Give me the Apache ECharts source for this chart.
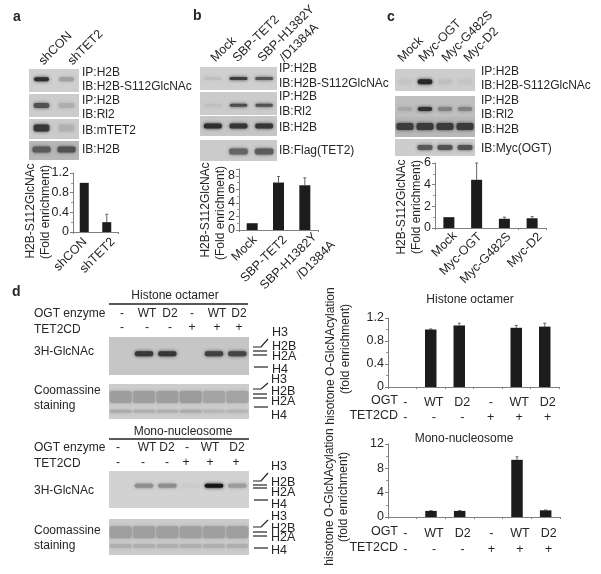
<!DOCTYPE html>
<html><head><meta charset="utf-8">
<style>html,body{margin:0;padding:0;background:#fff}#c{width:601px;height:574px}</style>
<script src="https://cdn.jsdelivr.net/npm/echarts@6/dist/echarts.min.js"></script>
</head><body><div id="c"></div>
<script>
// ---- bar chart data ----
const catsA = ['shCON','shTET2'];
const valsA = [1, 0.2];
const topsA = [null, 0.36];
const catsB = ['Mock','SBP-TET2','SBP-H1382Y'];
const catB2 = '/D1384A';
const valsB = [1, 7, 6.6];
const topsB = [null, 7.9, 7.7];
const catsC = ['Mock','Myc-OGT','Myc-G482S','Myc-D2'];
const valsC = [1, 4.45, 0.85, 0.9];
const topsC = [null, 6.0, 1.0, 1.05];
const ogtRow = ['-','WT','D2','-','WT','D2'];
const tetRow = ['-','-','-','+','+','+'];
const valsD1 = [0, 1.0, 1.07, 0, 1.03, 1.05];
const topsD1 = [null, 1.01, 1.11, null, 1.07, 1.11];
const valsD2 = [0, 1.0, 1.0, 0, 9.4, 1.1];
const topsD2 = [null, 1.06, 1.06, null, 9.9, 1.16];
// ---- blot band intensities, lane by lane ----
const a1 = [.85,.25], a2 = [.66,.16], a3 = [.8,.14], a4 = [.56,.62];
const b1 = [.08,.76,.64], b2 = [.06,.68,.66], b3 = [.85,.8,.8], b4 = [0,.55,.6];
const c1 = [.05,.88,.07,.05], c2 = [.14,.82,.36,.36], c3 = [.74,.76,.76,.76], c4 = [0,.62,.66,.66];
const d1 = [0,.8,.8,0,.75,.72];
const d2u = [.25,.25,.25,.27,.22,.22], d2l = [.18,.16,.16,.18,.13,.13];
const d3 = [0,.36,.36,.03,.98,.28];
const d4u = [.24,.24,.24,.24,.24,.24], d4l = [.15,.15,.15,.15,.15,.15];

// ---- layout ----
const blots = [
 {r:[29,69,50,23],bg:'#cfcfcf',rows:[{v:a1,y:.45,h:4,w:.6}]},
 {r:[29,94,50,23],bg:'#cccccc',rows:[{v:a2,y:.5,h:5,w:.62}]},
 {r:[29,119,50,20],bg:'#cbcbcb',rows:[{v:a3,y:.45,h:7,w:.62}]},
 {r:[29,141,50,19],bg:'#b8b8b8',rows:[{v:a4,y:.45,h:6,w:.72}]},
 {r:[200,67,77,23],bg:'#cfcfcf',rows:[{v:b1,y:.5,h:3,w:.7}]},
 {r:[200,92,77,23],bg:'#cbcbcb',rows:[{v:b2,y:.58,h:3,w:.68}]},
 {r:[200,116,77,20],bg:'#c6c6c6',rows:[{v:b3,y:.5,h:5,w:.7}]},
 {r:[200,140,77,21],bg:'#cbcbcb',rows:[{v:b4,y:.55,h:6,w:.72}]},
 {r:[395,69,80,22],bg:'#cdcdcd',rows:[{v:c1,y:.58,h:5,w:.72}]},
 {r:[395,96,80,21],bg:'#bfbfbf',rows:[{v:c2,y:.62,h:4,w:.72}]},
 {r:[395,117,80,20],bg:'#b8b8b8',rows:[{v:c3,y:.47,h:7,w:.85}]},
 {r:[395,139,80,17],bg:'#cdcdcd',rows:[{v:c4,y:.5,h:5,w:.75}]},
 {r:[109,337,140,38],bg:'#c6c6c6',rows:[{v:d1,y:.44,h:5,w:.78}]},
 {r:[109,384,140,35],bg:'#cdcdcd',rows:[{v:d2u,y:.37,h:12,w:.94},{v:d2l,y:.78,h:3,w:.94}]},
 {r:[109,471,140,37],bg:'#d2d2d2',rows:[{v:d3,y:.4,h:4,w:.8}]},
 {r:[109,519,140,36],bg:'#cbcbcb',rows:[{v:d4u,y:.37,h:12,w:.94},{v:d4l,y:.75,h:4,w:.94}]}
];
const charts = [
 {r:[73,173,45,59],cats:catsA,vals:valsA,tops:topsA,max:1.2,iv:.4,bw:9},
 {r:[239,169,79,61],cats:catsB,vals:valsB,tops:topsB,max:9,iv:2,bw:11,hideMax:true},
 {r:[435,163,111,65],cats:catsC,vals:valsC,tops:topsC,max:6,iv:2,bw:11},
 {r:[388,318,171,69],cats:ogtRow,second:tetRow,vals:valsD1,tops:topsD1,max:1.2,iv:.4,bw:11.5,margin:8,lh:15},
 {r:[388,444,172,73],cats:ogtRow,second:tetRow,vals:valsD2,tops:topsD2,max:12,iv:4,bw:11.5,margin:9,lh:16}
];
const FONT = '"Liberation Sans", Arial, sans-serif', INK = '#262626';

function mix(bg, t){
  const b = parseInt(bg.slice(1,3),16), v = Math.round(b + (18 - b)*t);
  return 'rgb('+v+','+v+','+v+')';
}
const grid=[], xAxis=[], yAxis=[], series=[];

blots.forEach(b=>{
  const g = grid.length, n = b.rows[0].v.length;
  grid.push({left:b.r[0],top:b.r[1],width:b.r[2],height:b.r[3],show:true,backgroundColor:b.bg,borderWidth:0});
  xAxis.push({gridIndex:g,type:'value',min:-.5,max:n-.5,show:false});
  yAxis.push({gridIndex:g,type:'value',min:0,max:1,inverse:true,show:false});
  b.rows.forEach(row=>{
    series.push({type:'custom',xAxisIndex:g,yAxisIndex:g,clip:true,silent:true,
      data:row.v.map((t,i)=>[i,row.y,t]),
      encode:{x:0,y:1},
      renderItem:(p,api)=>{
        const t=api.value(2); if(t<=0) return;
        const c=api.coord([api.value(0),api.value(1)]), w=api.size([1,0])[0]*row.w, col=mix(b.bg,t);
        return {type:'rect',shape:{x:c[0]-w/2,y:c[1]-row.h/2,width:w,height:row.h,r:Math.min(2,row.h/2)},
                style:{fill:col,shadowBlur:3.5,shadowColor:col}};
      }});
  });
});

charts.forEach(c=>{
  const g = grid.length;
  grid.push({left:c.r[0],top:c.r[1],width:c.r[2],height:c.r[3]});
  xAxis.push({gridIndex:g,type:'category',data:c.cats.map((s,i)=>({value:c.second? i+'':s})),
    axisLine:{lineStyle:{color:'#808080',width:1}},
    axisTick:{show:true,length:2,lineStyle:{color:'#808080'},alignWithLabel:false},
    axisLabel: c.second ? {interval:0,margin:c.margin,fontFamily:FONT,fontSize:12.5,color:INK,lineHeight:c.lh,padding:[0,0,0,6],
        formatter:(v,i)=>c.cats[i]+'\n'+c.second[i]}
      : {show:false}});
  yAxis.push({gridIndex:g,type:'value',min:0,max:c.max,interval:c.iv,splitLine:{show:false},
    axisLine:{show:true,lineStyle:{color:'#808080'}},
    axisTick:{show:true,length:3,lineStyle:{color:'#808080'}},
    minorTick:{show:true,splitNumber:2,length:2,lineStyle:{color:'#999'}},
    axisLabel:{margin:4,fontFamily:FONT,fontSize:12.5,color:INK,showMaxLabel:c.hideMax?false:undefined,
      formatter:v=>String(v)}});
  series.push({type:'bar',xAxisIndex:g,yAxisIndex:g,data:c.vals,barWidth:c.bw,itemStyle:{color:'#1c1c1c'},silent:true});
  series.push({type:'custom',xAxisIndex:g,yAxisIndex:g,silent:true,z:1,
    data:c.vals.map((v,i)=>[i,v,c.tops[i]]).filter(d=>d[2]!==null),
    encode:{x:0,y:[1,2]},
    renderItem:(p,api)=>{
      const a=api.coord([api.value(0),api.value(1)]), e=api.coord([api.value(0),api.value(2)]);
      return {type:'group',children:[
        {type:'line',shape:{x1:a[0],y1:a[1],x2:e[0],y2:e[1]},style:{stroke:'#666',lineWidth:1}},
        {type:'line',shape:{x1:e[0]-1.5,y1:e[1],x2:e[0]+1.5,y2:e[1]},style:{stroke:'#666',lineWidth:1}}]};
    }});
});

// ---- text and annotation ----
const gfx=[];
function T(x,y,s,o){ o=o||{}; gfx.push({type:'text',x:x,y:y,rotation:o.rot||0,silent:true,
  style:{text:s,fill:o.fill||INK,font:(o.bold?'bold ':'')+(o.size||12)+'px '+FONT,align:o.align||'left',verticalAlign:'middle'}}); }
function L(pts,w){ gfx.push({type:'polyline',silent:true,shape:{points:pts},style:{stroke:'#222',lineWidth:w||1.2,fill:null}}); }
const R45=Math.PI/4, R90=Math.PI/2;

T(13,17,'a',{bold:1,size:14}); T(193,16,'b',{bold:1,size:14}); T(387,17,'c',{bold:1,size:14}); T(12,292,'d',{bold:1,size:14});

const labelsA=[['IP:H2B',73],['IB:H2B-S112GlcNAc',87],['IP:H2B',101],['IB:Rl2',115],['IB:mTET2',131],['IB:H2B',150]];
const labelsB=[['IP:H2B',69],['IB:H2B-S112GlcNAc',84],['IP:H2B',97],['IB:Rl2',112],['IB:H2B',128],['IB:Flag(TET2)',151]];
const labelsC=[['IP:H2B',72],['IB:H2B-S112GlcNAc',86],['IP:H2B',101],['IB:Rl2',115],['IB:H2B',130],['IB:Myc(OGT)',149]];
labelsA.forEach(l=>T(82,l[1],l[0])); labelsB.forEach(l=>T(279,l[1],l[0])); labelsC.forEach(l=>T(481,l[1],l[0]));

[['shCON',41,63],['shTET2',70,63],['Mock',213,60],['SBP-TET2',235,60],['SBP-H1382Y',260,60],['/D1384A',282,60],
 ['Mock',400,60],['Myc-OGT',421,60],['Myc-G482S',444,60],['Myc-D2',466,60]].forEach(h=>T(h[1],h[2],h[0],{rot:R45,size:12.5}));

// x labels of the small bar charts, anchored at their upper right end
const endsA=[[85,240],[113,240]], endsB=[[255,238],[285,238],[315,235]], endsC=[[455,234],[480,235],[509,235],[540,235]];
catsA.forEach((s,i)=>T(endsA[i][0],endsA[i][1],s,{rot:R45,align:'right',size:12.5}));
catsB.forEach((s,i)=>T(endsB[i][0],endsB[i][1],s,{rot:R45,align:'right',size:12.5}));
T(333,243,catB2,{rot:R45,align:'right',size:12.5});
catsC.forEach((s,i)=>T(endsC[i][0],endsC[i][1],s,{rot:R45,align:'right',size:12.5}));

[['H2B-S112GlcNAc',31,211],['(Fold enrichment)',46,212],['H2B-S112GlcNAc',206,210],['(Fold enrichment)',221,213],
 ['H2B-S112GlcNAc',402,207],['(Fold enrichment)',417,207],['hisotone O-GlcNAcylation',331,356],['(fold enrichment)',346,349],
 ['hisotone O-GlcNAcylation',330,497],['(fold enrichment)',344,497]].forEach(h=>T(h[1],h[2],h[0],{rot:R90,align:'center'}));

T(470,300,'Histone octamer',{align:'center'}); T(464,439,'Mono-nucleosome',{align:'center'});
[[401,'OGT'],[416,'TET2CD'],[532,'OGT'],[548,'TET2CD']].forEach(r=>T(398,r[0],r[1],{align:'right',size:12.5}));

T(175,296,'Histone octamer',{align:'center'}); L([[109,304],[248,304]],1.5);
T(183,432,'Mono-nucleosome',{align:'center'}); L([[109,439],[249,439]],1.5);
[['OGT enzyme',314],['TET2CD',330],['3H-GlcNAc',352],['Coomassine',391],['staining',406],
 ['OGT enzyme',448],['TET2CD',464],['3H-GlcNAc',491],['Coomassine',531],['staining',546]].forEach(r=>T(34,r[1],r[0]));

const laneX1=[122,147,170,192,217,239], laneX2=[118,147,167,187,210,237], laneX2t=[118,143,167,186,210,236];
ogtRow.forEach((s,i)=>{ T(laneX1[i],314,s,{align:'center'}); T(laneX1[i],328,tetRow[i],{align:'center'});
  T(laneX2[i],448,s,{align:'center'}); T(laneX2t[i],463,tetRow[i],{align:'center'}); });

function markers(yH3,tip,y2b,y2a,y4,lb,lx){
  L([[253,yH3],[261,yH3],[268,tip]]); L([[253,y2b],[267,y2b]]); L([[253,y2a],[267,y2a]]); L([[254,y4],[268,y4]]);
  ['H3','H2B','H2A','H4'].forEach((s,i)=>T(lx,lb[i],s,{size:12.5}));
}
markers(347,339,351,355,367,[333,347,357,370],272);
markers(389,383,394,398,407,[380,392,402,416],271);
markers(481,473,485,488,500,[467,483,493,505],271);
markers(527,520,532,536,548,[517,529,538,551],271);

const chart=echarts.init(document.getElementById('c'),null,{renderer:'canvas',width:601,height:574});
chart.setOption({animation:false,backgroundColor:'#fff',tooltip:{show:false},grid,xAxis,yAxis,series,graphic:{elements:gfx}});
</script></body></html>
